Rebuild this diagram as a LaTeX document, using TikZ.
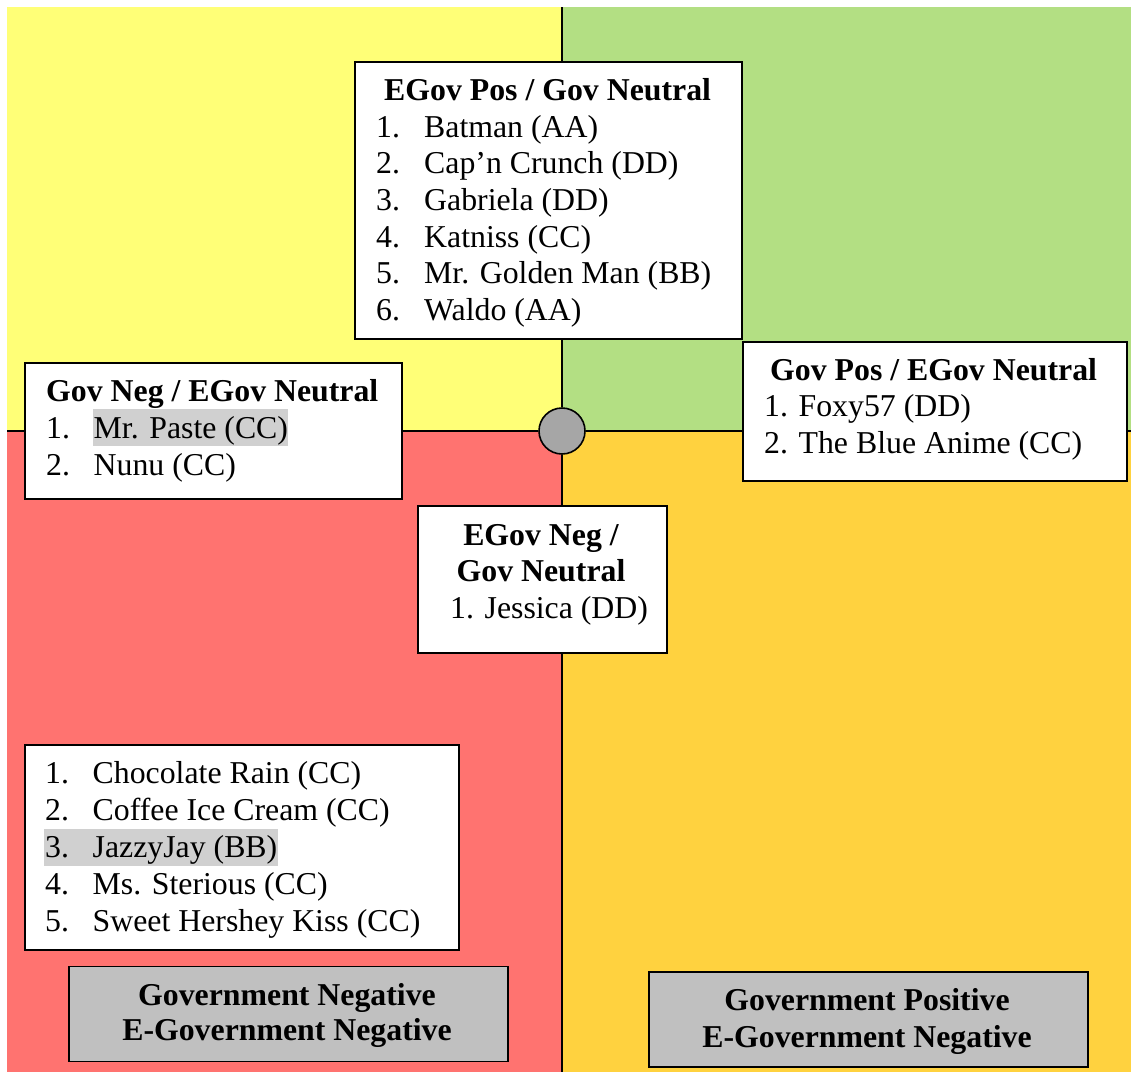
\documentclass[tikz,border=0pt]{standalone}
\usepackage{fontspec}
\setmainfont{Liberation Serif}
\definecolor{qyellow}{HTML}{FFFF77}
\definecolor{qgreen}{HTML}{B3DF83}
\definecolor{qred}{HTML}{FF7370}
\definecolor{qorange}{HTML}{FFD23F}
\definecolor{hubgray}{HTML}{A6A6A6}
\definecolor{labelgray}{HTML}{C0C0C0}
\definecolor{hilitegray}{HTML}{D0D0D0}
\tikzset{
  panel/.style={draw=black, fill=white, line width=1.6pt, inner sep=0pt, anchor=north west},
  axislabel/.style={panel, fill=labelgray},
  txt/.style={anchor=base west, inner sep=0pt, font=\fontsize{31.8pt}{36pt}\selectfont},
  ctxt/.style={anchor=base, inner sep=0pt, font=\fontsize{31.8pt}{36pt}\selectfont\bfseries},
  axis/.style={line width=1.6pt, draw=black},
  hilite/.style={fill=hilitegray, draw=none, inner sep=0pt, anchor=north west}
}
\begin{document}
\begin{tikzpicture}[x=1pt,y=-1pt]
\useasboundingbox (0,0) rectangle (1131,1072);
% quadrant backgrounds
\fill[qyellow] (7,7) rectangle (562,431);
\fill[qgreen] (562,7) rectangle (1131,431);
\fill[qred] (7,431) rectangle (562,1072);
\fill[qorange] (562,431) rectangle (1131,1072);
% axes through the centre point
\node[circle, draw=black, fill=hubgray, line width=1.6pt, minimum size=46pt, inner sep=0pt] (hub) at (562,431) {};
\coordinate (top) at (562,7);
\coordinate (bottom) at (562,1072);
\coordinate (left) at (7,431);
\coordinate (right) at (1131,431);
\draw[axis] (top) -- (hub);
\draw[axis] (hub) -- (bottom);
\draw[axis] (left) -- (hub);
\draw[axis] (hub) -- (right);

% EGov Pos / Gov Neutral
\node[panel, minimum width=387pt, minimum height=277pt] (egovpos) at (354,61) {};
\node[txt] (egovposT) at (384,100) {\bfseries EGov Pos / Gov Neutral};
\node[txt] (egp1n) at (376,137) {1.};
\node[txt] (egp1) at (424,137) {Batman (AA)};
\node[txt] (egp2n) at (376,173.5) {2.};
\node[txt] (egp2) at (424,173.5) {Cap’n Crunch (DD)};
\node[txt] (egp3n) at (376,210.5) {3.};
\node[txt] (egp3) at (424,210.5) {Gabriela (DD)};
\node[txt] (egp4n) at (376,247) {4.};
\node[txt] (egp4) at (424,247) {Katniss (CC)};
\node[txt] (egp5n) at (376,283.5) {5.};
\node[txt] (egp5) at (424,283.5) {Mr. Golden Man (BB)};
\node[txt] (egp6n) at (376,320) {6.};
\node[txt] (egp6) at (424,320) {Waldo (AA)};

% Gov Neg / EGov Neutral
\node[panel, minimum width=377pt, minimum height=136pt] (govneg) at (24,362) {};
\node[hilite, minimum width=195pt, minimum height=37pt] (pastehl) at (93,408.5) {};
\node[txt] (govnegT) at (46,401.5) {\bfseries Gov Neg / EGov Neutral};
\node[txt] (gn1n) at (46,438) {1.};
\node[txt] (gn1) at (93.5,438) {Mr. Paste (CC)};
\node[txt] (gn2n) at (46,475) {2.};
\node[txt] (gn2) at (93.5,475) {Nunu (CC)};

% Gov Pos / EGov Neutral
\node[panel, minimum width=384pt, minimum height=139pt] (govpos) at (742,341) {};
\node[txt] (govposT) at (770,380) {\bfseries Gov Pos / EGov Neutral};
\node[txt] (gp1) at (764,416.5) {1. Foxy57 (DD)};
\node[txt] (gp2) at (764,453.5) {2. The Blue Anime (CC)};

% EGov Neg / Gov Neutral
\node[panel, minimum width=249pt, minimum height=147pt] (egovneg) at (417,505) {};
\node[ctxt] (egovnegT1) at (541,545) {EGov Neg /};
\node[ctxt] (egovnegT2) at (541,581.5) {Gov Neutral};
\node[txt] (en1) at (450,618.5) {1. Jessica (DD)};

% both negative
\node[panel, minimum width=434pt, minimum height=205pt] (bothneg) at (24,744) {};
\node[hilite, minimum width=234pt, minimum height=37pt] (jazzhl) at (44,829) {};
\node[txt] (bn1n) at (45,783.5) {1.};
\node[txt] (bn1) at (92.5,783.5) {Chocolate Rain (CC)};
\node[txt] (bn2n) at (45,820.5) {2.};
\node[txt] (bn2) at (92.5,820.5) {Coffee Ice Cream (CC)};
\node[txt] (bn3n) at (45,857.5) {3.};
\node[txt] (bn3) at (92.5,857.5) {JazzyJay (BB)};
\node[txt] (bn4n) at (45,894.5) {4.};
\node[txt] (bn4) at (92.5,894.5) {Ms. Sterious (CC)};
\node[txt] (bn5n) at (45,931) {5.};
\node[txt] (bn5) at (92.5,931) {Sweet Hershey Kiss (CC)};

% quadrant captions
\node[axislabel, minimum width=439pt, minimum height=95pt] (capneg) at (68,965.5) {};
\node[ctxt] (capnegA) at (287,1005) {Government Negative};
\node[ctxt] (capnegB) at (287,1040.5) {E-Government Negative};
\node[axislabel, minimum width=439pt, minimum height=95pt] (cappos) at (648,971) {};
\node[ctxt] (capposA) at (867,1010.5) {Government Positive};
\node[ctxt] (capposB) at (867,1047) {E-Government Negative};
\end{tikzpicture}
\end{document}
